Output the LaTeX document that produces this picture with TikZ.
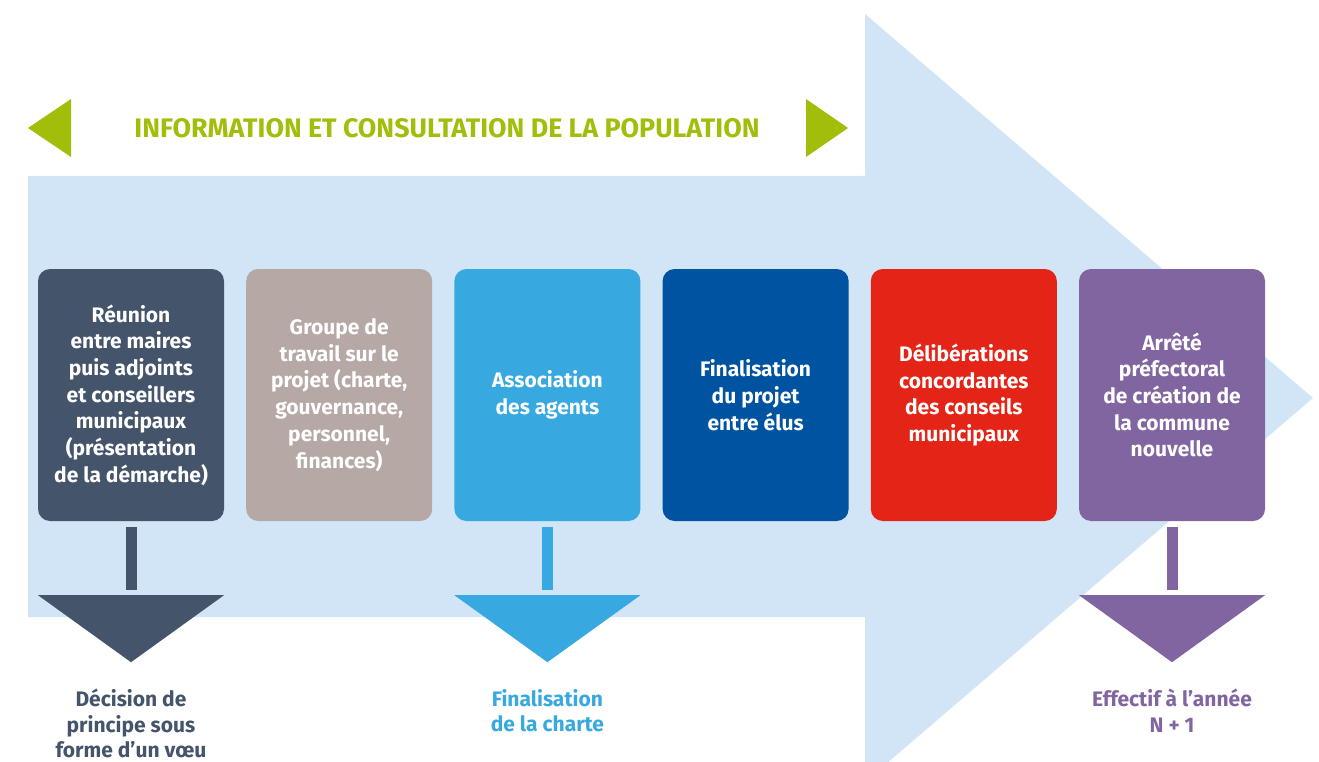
\documentclass[tikz,border=0pt]{standalone}
\usepackage{fontspec}
\setmainfont{Fira Sans}
\usetikzlibrary{positioning}
\definecolor{fond}{HTML}{D1E5F7}
\definecolor{vert}{HTML}{A3BD0B}
\definecolor{ardoise}{HTML}{44546A}
\definecolor{taupe}{HTML}{B6A8A4}
\definecolor{ciel}{HTML}{38A9E0}
\definecolor{marine}{HTML}{0053A0}
\definecolor{rouge}{HTML}{E32416}
\definecolor{mauve}{HTML}{8165A1}
\tikzset{
	etape/.style = {rounded corners=12pt, minimum width=186pt, minimum height=252pt, inner sep=0pt, align=center, text=white, font=\fontsize{21}{26.7}\selectfont\bfseries},
	issue/.style = {anchor=north, inner sep=0pt, align=center, font=\fontsize{21}{25.5}\selectfont\bfseries},
	titre/.style = {inner sep=0pt, text=vert, font=\fontsize{26.8}{30}\selectfont\bfseries},
	tige/.style = {line width=11pt}
}
\begin{document}
\begin{tikzpicture}[x=1pt, y=-1pt, node distance=21.8pt]
		\useasboundingbox (0,0) rectangle (1319,762);
		% grande fleche de fond
		\fill[fond] (28,176) -- (865,176) -- (865,14) -- (1313,398) -- (865,782) -- (865,617) -- (28,617) -- cycle;
		% information
		\node [titre] (info) at (447,128) {INFORMATION ET CONSULTATION DE LA POPULATION};
		\coordinate (gauche) at (28,128);
		\coordinate (droite) at (848,128);
		\fill[vert] (gauche) -- ++(43,-29) -- ++(0,58) -- cycle;
		\fill[vert] (droite) -- ++(-42,-29) -- ++(0,58) -- cycle;
		% etapes
		\node [etape, fill=ardoise] (reunion) at (131,395) {Réunion\\entre maires\\puis adjoints\\et conseillers\\municipaux\\(présentation\\de la démarche)};
		\node [etape, fill=taupe, right=of reunion] (groupe) {Groupe de\\travail sur le\\projet (charte,\\gouvernance,\\personnel,\\finances)};
		\node [etape, fill=ciel, right=of groupe] (agents) {Association\\des agents};
		\node [etape, fill=marine, right=of agents] (projet) {Finalisation\\du projet\\entre élus};
		\node [etape, fill=rouge, right=of projet] (delib) {Délibérations\\concordantes\\des conseils\\municipaux};
		\node [etape, fill=mauve, right=of delib] (arrete) {Arrêté\\préfectoral\\de création de\\la commune\\nouvelle};
		% issues
		\foreach \src/\pt/\col in {reunion/d1/ardoise, agents/d2/ciel, arrete/d3/mauve}{
			\coordinate (\pt) at ([yshift=-74pt]\src.south);
			\fill[\col] ([xshift=-93pt]\pt) -- ([xshift=93pt]\pt) -- ([yshift=-67pt]\pt) -- cycle;
			\draw[tige, \col] ([yshift=-6pt]\src.south) -- ([yshift=5pt]\pt);
		}
		\node [issue, text=ardoise] (decision) at ([yshift=-94pt]d1) {Décision de\\principe sous\\forme d’un vœu};
		\node [issue, text=ciel] (charte) at ([yshift=-94pt]d2) {Finalisation\\de la charte};
		\node [issue, text=mauve] (effectif) at ([yshift=-94pt]d3) {Effectif à l’année\\N + 1};
\end{tikzpicture}
\end{document}
